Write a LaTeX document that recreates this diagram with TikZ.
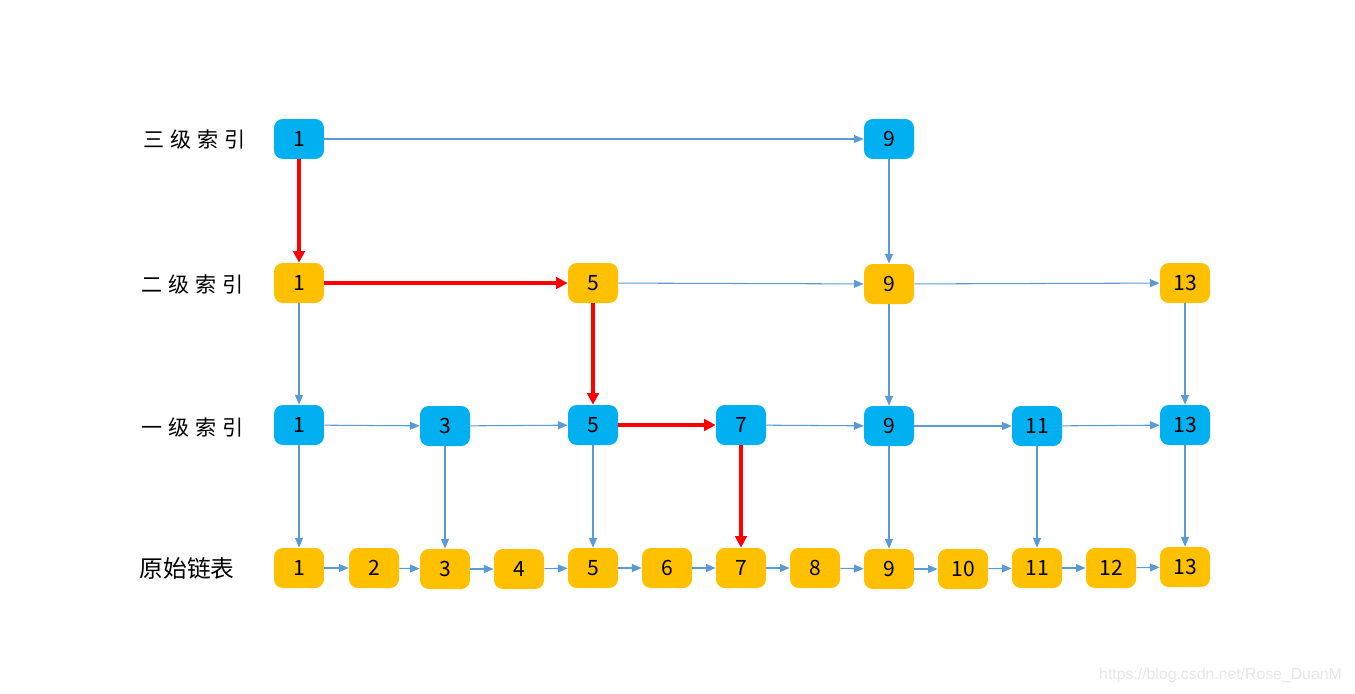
\documentclass[tikz,border=0pt]{standalone}
\usepackage{fontspec}
\usepackage{xcolor}
\usepackage{tikz}
\usetikzlibrary{arrows.meta}
\setmainfont{Liberation Sans}
\newfontfamily\cjk[LetterSpace=28]{Noto Sans CJK SC}
\newfontfamily\cjktight{Noto Sans CJK SC}
\definecolor{idxblue}{HTML}{00B0F0}
\definecolor{idxorange}{HTML}{FFC000}
\definecolor{linkblue}{HTML}{5B9BD5}
\definecolor{pathred}{HTML}{FF0000}
\definecolor{markgray}{HTML}{E6E6E6}

\begin{document}
\begin{tikzpicture}[
  x=0.02cm, y=-0.02cm,
  keybox/.style={
    rectangle, rounded corners=5pt,
    minimum width=1cm, minimum height=0.8cm,
    inner sep=0pt, font=\cjktight\fontsize{12}{12}\selectfont,
  },
  bluekey/.style={keybox, fill=idxblue},
  orangekey/.style={keybox, fill=idxorange},
  levellabel/.style={font=\cjk\fontsize{12}{14}\selectfont, anchor=center},
  link/.style={draw=linkblue, line width=0.6pt,
    -{Triangle[length=5.5pt, width=4.5pt]}},
  searchpath/.style={draw=pathred, line width=1.9pt,
    -{Triangle[length=6.5pt, width=6.5pt]}},
]
\useasboundingbox (0,0) rectangle (1355,693);

% level labels
\node[levellabel] (lab3) at (195,139) {三级索引};
\node[levellabel] (lab2) at (193,284) {二级索引};
\node[levellabel] (lab1) at (193,427) {一级索引};
\node[font=\cjktight\fontsize{13.5}{16}\selectfont] (lab0) at (187,568) {原始链表};

% third level index
\node[bluekey] (t1) at (299,139) {1};
\node[bluekey] (t9) at (889,139) {9};

% second level index
\node[orangekey] (s1) at (299,283) {1};
\node[orangekey] (s5) at (593,283) {5};
\node[orangekey] (s9) at (889,284) {9};
\node[orangekey] (s13) at (1185,283) {13};

% first level index
\node[bluekey] (f1) at (299,425) {1};
\node[bluekey] (f3) at (445,426) {3};
\node[bluekey] (f5) at (593,425) {5};
\node[bluekey] (f7) at (741,425) {7};
\node[bluekey] (f9) at (889,426) {9};
\node[bluekey] (f11) at (1037,426) {11};
\node[bluekey] (f13) at (1185,425) {13};

% original list
\node[orangekey] (o1) at (299,568) {1};
\node[orangekey] (o2) at (374,568) {2};
\node[orangekey] (o3) at (445,569) {3};
\node[orangekey] (o4) at (519,569) {4};
\node[orangekey] (o5) at (593,568) {5};
\node[orangekey] (o6) at (667,568) {6};
\node[orangekey] (o7) at (741,568) {7};
\node[orangekey] (o8) at (815,568) {8};
\node[orangekey] (o9) at (889,569) {9};
\node[orangekey] (o10) at (963,569) {10};
\node[orangekey] (o11) at (1037,568) {11};
\node[orangekey] (o12) at (1111,568) {12};
\node[orangekey] (o13) at (1185,567) {13};

% horizontal links
\draw[link] (t1) -- (t9);
\draw[link] (s5) -- (s9);
\draw[link] (s9) -- (s13);
\draw[link] (f1) -- (f3);
\draw[link] (f3) -- (f5);
\draw[link] (f7) -- (f9);
\draw[link] (f9) -- (f11);
\draw[link] (f11) -- (f13);
\draw[link] (o1) -- (o2);
\draw[link] (o2) -- (o3);
\draw[link] (o3) -- (o4);
\draw[link] (o4) -- (o5);
\draw[link] (o5) -- (o6);
\draw[link] (o6) -- (o7);
\draw[link] (o7) -- (o8);
\draw[link] (o8) -- (o9);
\draw[link] (o9) -- (o10);
\draw[link] (o10) -- (o11);
\draw[link] (o11) -- (o12);
\draw[link] (o12) -- (o13);

% vertical links
\draw[link] (t9) -- (s9);
\draw[link] (s1) -- (f1);
\draw[link] (s9) -- (f9);
\draw[link] (s13) -- (f13);
\draw[link] (f1) -- (o1);
\draw[link] (f3) -- (o3);
\draw[link] (f5) -- (o5);
\draw[link] (f9) -- (o9);
\draw[link] (f11) -- (o11);
\draw[link] (f13) -- (o13);

% search path for 7
\draw[searchpath] (t1) -- (s1);
\draw[searchpath] (s1) -- (s5);
\draw[searchpath] (s5) -- (f5);
\draw[searchpath] (f5) -- (f7);
\draw[searchpath] (f7) -- (o7);

% watermark
\node[font=\fontsize{9}{10}\selectfont, text=markgray, anchor=east] (mark) at (1348,675) {https://blog.csdn.net/Rose\_DuanM};

\end{tikzpicture}
\end{document}
